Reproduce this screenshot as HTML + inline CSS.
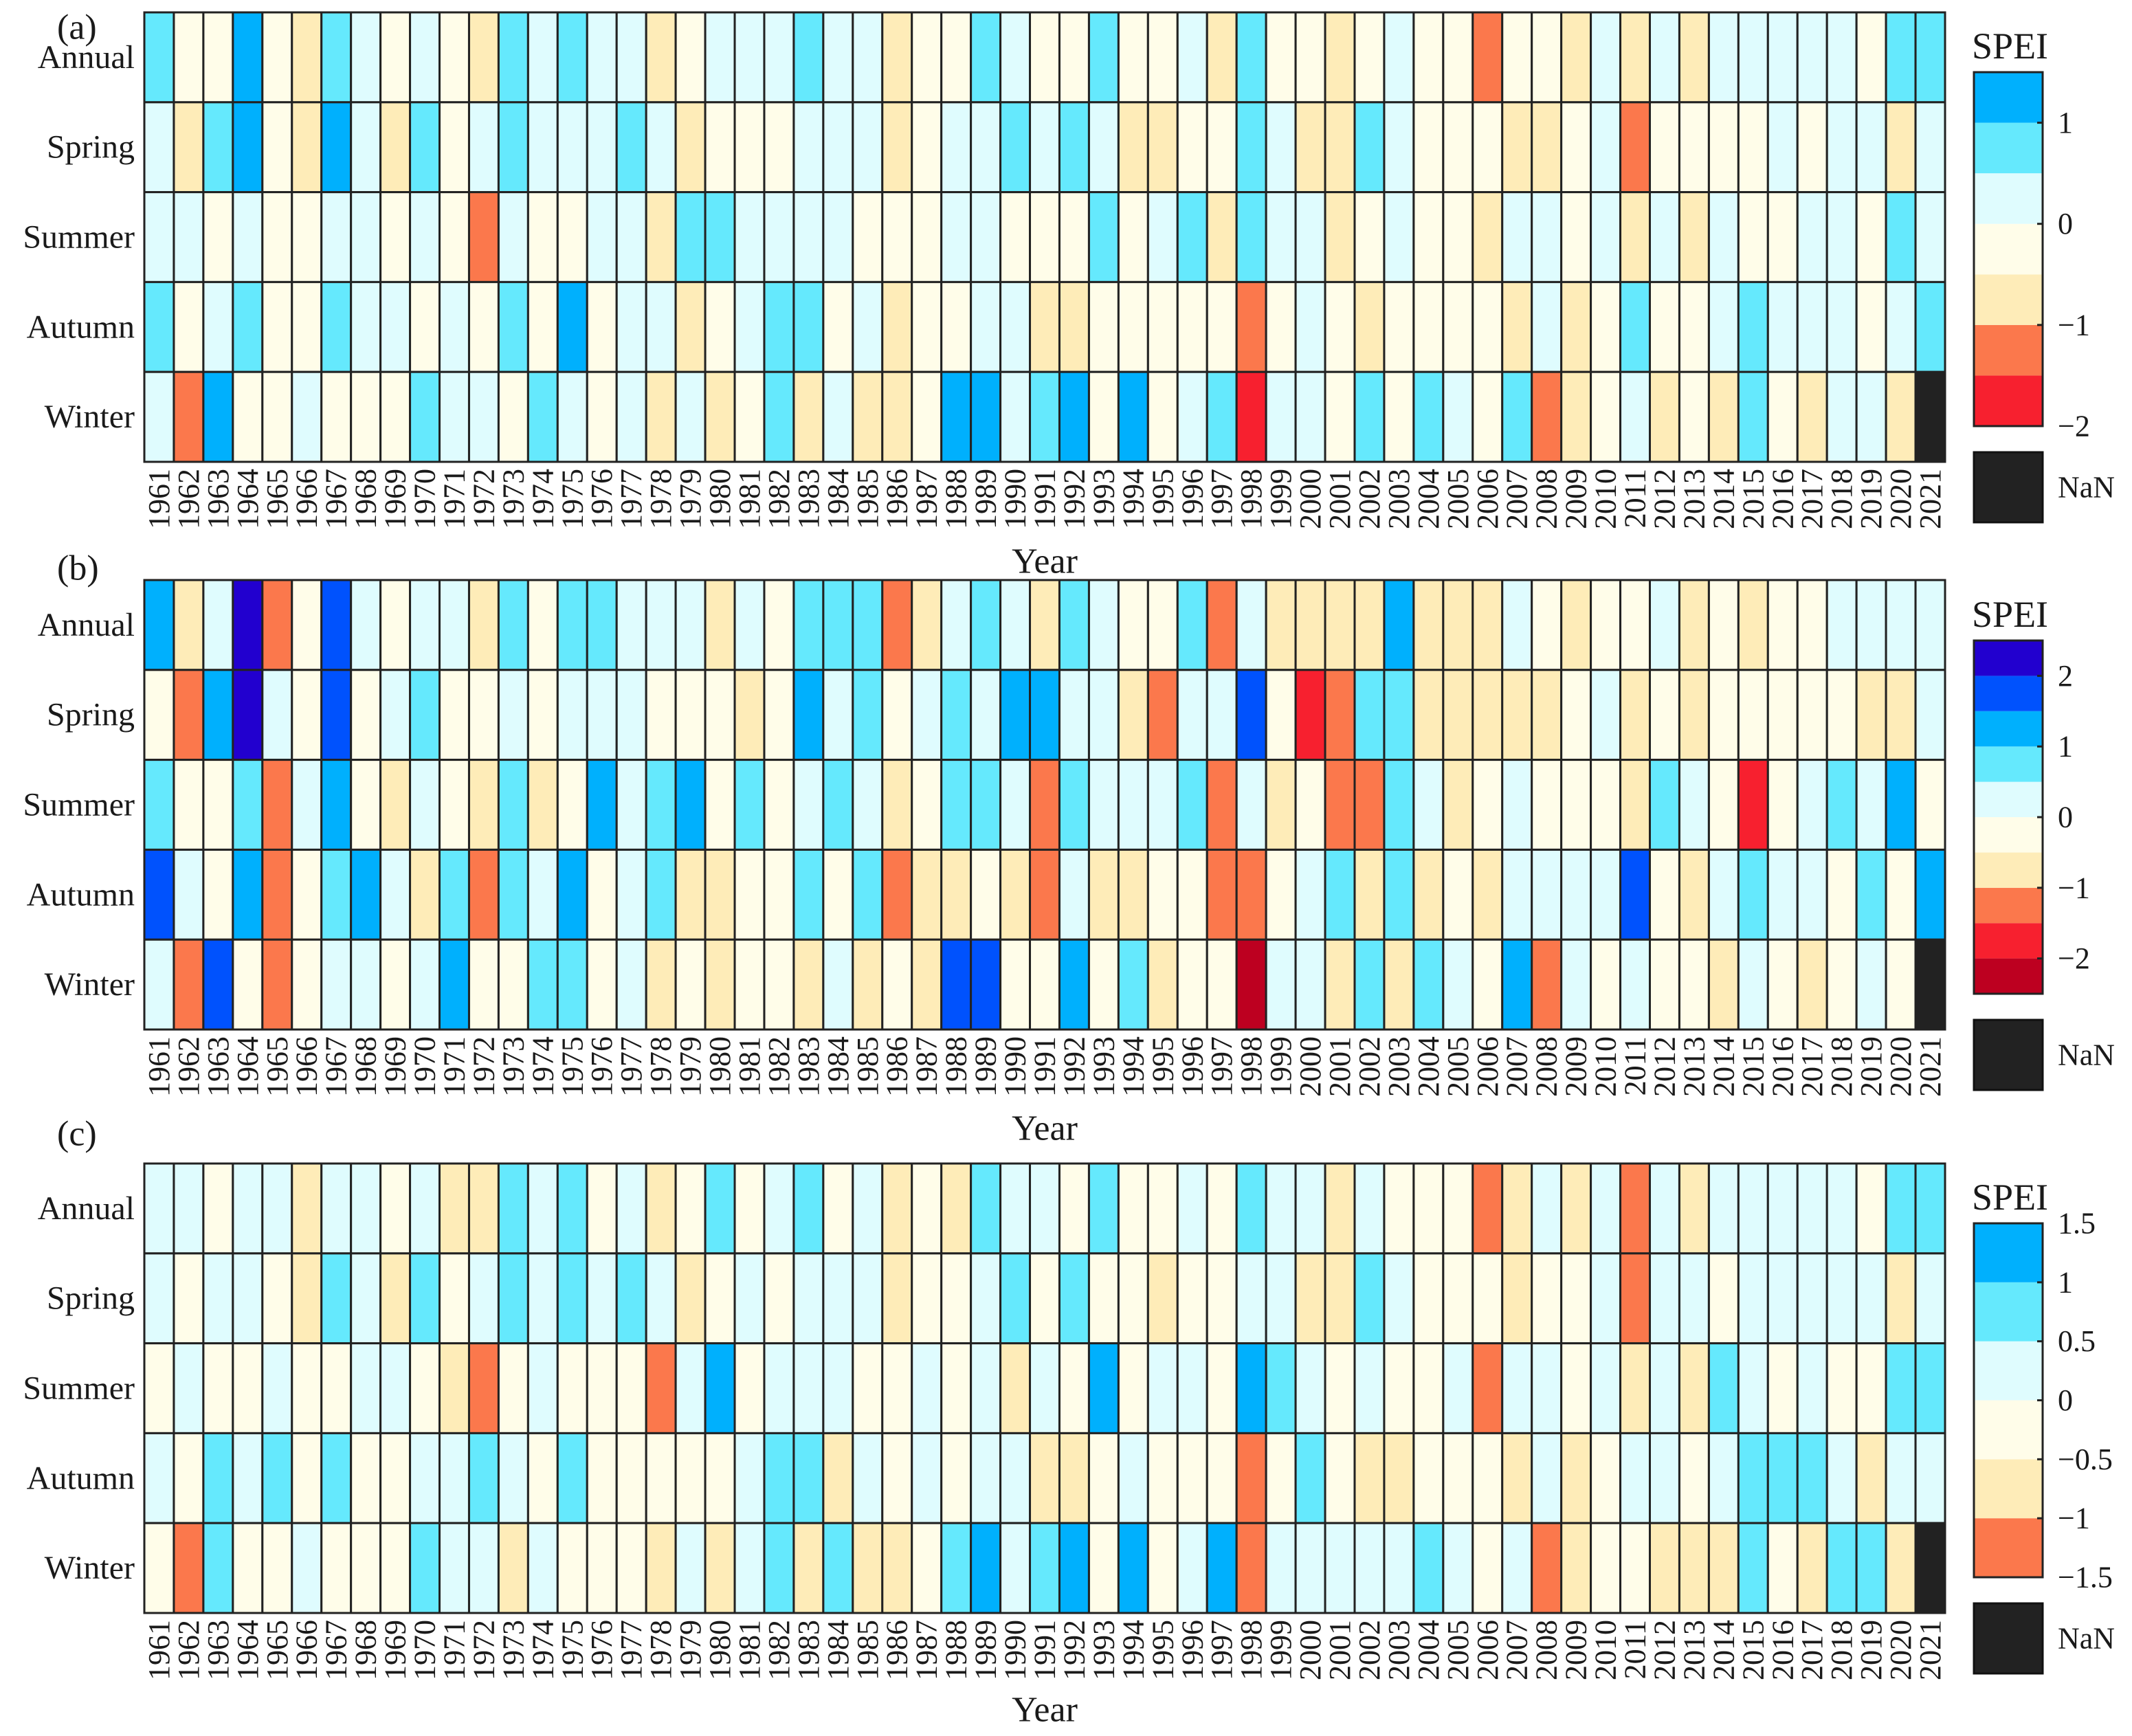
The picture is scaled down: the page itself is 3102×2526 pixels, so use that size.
<!DOCTYPE html>
<html><head><meta charset="utf-8"><style>
html,body{margin:0;padding:0;background:#fff}
svg{display:block}
text{font-family:"Liberation Serif",serif;fill:#1a1a1a}
</style></head><body>
<svg id="chart" xmlns="http://www.w3.org/2000/svg" width="3102" height="2526" viewBox="0 0 3102 2526">
<rect width="3102" height="2526" fill="#fff"/>
</svg>
<script>
const years = []; for (let y = 1961; y <= 2021; y++) years.push(String(y));
const seasons = ["Annual","Spring","Summer","Autumn","Winter"];
// codes: values are bin midpoints
const N = null;
// Panel (a)
const aAnnual = [0.75,-0.25,-0.25,1.25,-0.25,-0.75,0.75,0.25,-0.25,0.25,-0.25,-0.75,0.75,0.25,0.75,0.25,0.25,-0.75,-0.25,0.25, 0.25,0.25,0.75,0.25,0.25,-0.75,-0.25,-0.25,0.75,0.25,-0.25,-0.25,0.75,-0.25,-0.25,0.25,-0.75,0.75,-0.25,-0.25, -0.75,-0.25,0.25,-0.25,-0.25,-1.25,-0.25,-0.25,-0.75,0.25,-0.75,0.25,-0.75,0.25,0.25,0.25,0.25,0.25,-0.25,0.75,0.75];
const aSpring = [0.25,-0.75,0.75,1.25,-0.25,-0.75,1.25,0.25,-0.75,0.75,-0.25,0.25,0.75,0.25,0.25,0.25,0.75,0.25,-0.75,-0.25, -0.25,-0.25,0.25,0.25,0.25,-0.75,-0.25,0.25,0.25,0.75,0.25,0.75,0.25,-0.75,-0.75,-0.25,-0.25,0.75,0.25,-0.75, -0.75,0.75,0.25,-0.25,-0.25,-0.25,-0.75,-0.75,-0.25,0.25,-1.25,-0.25,-0.25,-0.25,-0.25,0.25,-0.25,0.25,0.25,-0.75,0.25];
const aSummer = [0.25,0.25,-0.25,0.25,-0.25,-0.25,0.25,0.25,-0.25,0.25,-0.25,-1.25,0.25,-0.25,-0.25,0.25,0.25,-0.75,0.75,0.75, 0.25,0.25,0.25,0.25,-0.25,-0.25,-0.25,0.25,0.25,-0.25,-0.25,-0.25,0.75,-0.25,0.25,0.75,-0.75,0.75,0.25,0.25, -0.75,-0.25,0.25,-0.25,-0.25,-0.75,0.25,0.25,-0.25,0.25,-0.75,0.25,-0.75,0.25,-0.25,-0.25,0.25,0.25,-0.25,0.75,0.25];
const aAutumn = [0.75,-0.25,0.25,0.75,-0.25,-0.25,0.75,0.25,0.25,-0.25,0.25,-0.25,0.75,-0.25,1.25,-0.25,0.25,0.25,-0.75,-0.25, 0.25,0.75,0.75,-0.25,0.25,-0.75,-0.25,-0.25,0.25,0.25,-0.75,-0.75,-0.25,-0.25,-0.25,-0.25,-0.25,-1.25,-0.25,0.25, -0.25,-0.75,-0.25,-0.25,-0.25,-0.25,-0.75,0.25,-0.75,-0.25,0.75,-0.25,-0.25,0.25,0.75,0.25,0.25,0.25,-0.25,0.25,0.75];
const aWinter = [0.25,-1.25,1.25,-0.25,-0.25,0.25,-0.25,-0.25,-0.25,0.75,0.25,0.25,-0.25,0.75,0.25,-0.25,0.25,-0.75,0.25,-0.75, -0.25,0.75,-0.75,0.25,-0.75,-0.75,-0.25,1.25,1.25,0.25,0.75,1.25,-0.25,1.25,-0.25,0.25,0.75,-1.75,0.25,0.25, -0.25,0.75,-0.25,0.75,0.25,-0.25,0.75,-1.25,-0.75,-0.25,0.25,-0.75,-0.25,-0.75,0.75,-0.25,-0.75,0.25,0.25,-0.75,N];
// Panel (b)
const bAnnual = [1.25,-0.75,0.25,2.25,-1.25,-0.25,1.75,0.25,-0.25,0.25,0.25,-0.75,0.75,-0.25,0.75,0.75,0.25,0.25,0.25,-0.75, 0.25,-0.25,0.75,0.75,0.75,-1.25,-0.75,0.25,0.75,0.25,-0.75,0.75,0.25,-0.25,-0.25,0.75,-1.25,0.25,-0.75,-0.75, -0.75,-0.75,1.25,-0.75,-0.75,-0.75,0.25,-0.25,-0.75,-0.25,-0.25,0.25,-0.75,-0.25,-0.75,-0.25,-0.25,0.25,0.25,0.25,0.25];
const bSpring = [-0.25,-1.25,1.25,2.25,0.25,-0.25,1.75,-0.25,0.25,0.75,-0.25,-0.25,0.25,-0.25,0.25,0.25,0.25,-0.25,-0.25,-0.25, -0.75,-0.25,1.25,0.25,0.75,-0.25,0.25,0.75,0.25,1.25,1.25,0.25,0.25,-0.75,-1.25,0.25,0.25,1.75,-0.25,-1.75, -1.25,0.75,0.75,-0.75,-0.75,-0.75,-0.75,-0.75,-0.25,0.25,-0.75,-0.25,-0.75,-0.25,-0.25,-0.25,-0.25,-0.25,-0.75,-0.75,0.25];
const bSummer = [0.75,-0.25,-0.25,0.75,-1.25,0.25,1.25,-0.25,-0.75,0.25,-0.25,-0.75,0.75,-0.75,-0.25,1.25,0.25,0.75,1.25,-0.25, 0.75,-0.25,0.25,0.75,0.25,-0.75,-0.25,0.75,0.75,0.25,-1.25,0.75,0.25,0.25,0.25,0.75,-1.25,0.25,-0.75,-0.25, -1.25,-1.25,0.75,0.25,-0.75,-0.25,0.25,-0.25,-0.25,-0.25,-0.75,0.75,0.25,-0.25,-1.75,-0.25,0.25,0.75,0.25,1.25,-0.25];
const bAutumn = [1.75,0.25,-0.25,1.25,-1.25,-0.25,0.75,1.25,0.25,-0.75,0.75,-1.25,0.75,0.25,1.25,-0.25,0.25,0.75,-0.75,-0.75, -0.25,-0.25,0.75,-0.25,0.75,-1.25,-0.75,-0.75,-0.25,-0.75,-1.25,0.25,-0.75,-0.75,-0.25,-0.25,-1.25,-1.25,-0.25,0.25, 0.75,-0.75,0.75,-0.75,-0.25,-0.75,0.25,0.25,0.25,0.25,1.75,-0.25,-0.75,0.25,0.75,0.25,0.25,-0.25,0.75,-0.25,1.25];
const bWinter = [0.25,-1.25,1.75,-0.25,-1.25,-0.25,0.25,0.25,-0.25,0.25,1.25,-0.25,-0.25,0.75,0.75,-0.25,0.25,-0.75,-0.25,-0.75, -0.25,-0.25,-0.75,0.25,-0.75,-0.25,-0.75,1.75,1.75,-0.25,-0.25,1.25,-0.25,0.75,-0.75,-0.25,-0.25,-2.25,0.25,0.25, -0.75,0.75,-0.75,0.75,0.25,-0.25,1.25,-1.25,0.25,-0.25,0.25,-0.25,-0.25,-0.75,0.25,-0.25,-0.75,-0.25,0.25,-0.25,N];
// Panel (c)
const cAnnual = [0.25,0.25,-0.25,0.25,0.25,-0.75,0.25,0.25,-0.25,0.25,-0.75,-0.75,0.75,0.25,0.75,-0.25,0.25,-0.75,-0.25,0.75, -0.25,0.25,0.75,-0.25,0.25,-0.75,-0.25,-0.75,0.75,0.25,0.25,-0.25,0.75,-0.25,-0.25,0.25,-0.25,0.75,0.25,0.25, -0.75,0.25,-0.25,-0.25,-0.25,-1.25,-0.75,0.25,-0.75,0.25,-1.25,0.25,-0.75,0.25,0.25,0.25,0.25,0.25,-0.25,0.75,0.75];
const cSpring = [0.25,-0.25,0.25,0.25,-0.25,-0.75,0.75,0.25,-0.75,0.75,-0.25,0.25,0.75,0.25,0.75,0.25,0.75,0.25,-0.75,-0.25, 0.25,-0.25,0.25,0.25,0.25,-0.75,-0.25,-0.25,0.25,0.75,-0.25,0.75,-0.25,-0.25,-0.75,-0.25,-0.25,0.25,0.25,-0.75, -0.75,0.75,0.25,-0.25,-0.25,-0.25,-0.75,-0.25,-0.25,0.25,-1.25,0.25,0.25,-0.25,0.25,0.25,0.25,0.25,0.25,-0.75,0.25];
const cSummer = [-0.25,0.25,-0.25,-0.25,0.25,-0.25,-0.25,0.25,0.25,-0.25,-0.75,-1.25,-0.25,0.25,-0.25,-0.25,-0.25,-1.25,0.25,1.25, -0.25,0.25,0.25,0.25,-0.25,-0.25,0.25,-0.25,0.25,-0.75,0.25,-0.25,1.25,-0.25,0.25,0.25,-0.25,1.25,0.75,0.25, -0.25,0.25,-0.25,-0.25,0.25,-1.25,0.25,0.25,-0.25,0.25,-0.75,0.25,-0.75,0.75,0.25,-0.25,0.25,-0.25,-0.25,0.75,0.75];
const cAutumn = [0.25,-0.25,0.75,0.25,0.75,-0.25,0.75,-0.25,-0.25,0.25,0.25,0.75,0.25,-0.25,0.75,-0.25,-0.25,-0.25,-0.25,-0.25, 0.25,0.75,0.75,-0.75,0.25,-0.25,0.25,-0.25,0.25,0.25,-0.75,-0.75,-0.25,0.25,-0.25,-0.25,-0.25,-1.25,-0.25,0.75, -0.25,-0.75,-0.75,-0.25,-0.25,-0.25,-0.75,0.25,-0.75,-0.25,0.25,0.25,-0.25,0.25,0.75,0.75,0.75,0.25,-0.75,0.25,0.25];
const cWinter = [-0.25,-1.25,0.75,-0.25,-0.25,0.25,-0.25,-0.25,-0.25,0.75,0.25,0.25,-0.75,0.25,-0.25,-0.25,-0.25,-0.75,0.25,-0.75, 0.25,0.75,-0.75,0.75,-0.75,-0.75,-0.25,0.75,1.25,0.25,0.75,1.25,-0.25,1.25,-0.25,0.25,1.25,-1.25,0.25,0.25, 0.25,0.25,0.25,0.75,0.25,-0.25,0.25,-1.25,-0.75,-0.25,-0.25,-0.75,-0.75,-0.75,0.75,-0.25,-0.75,0.75,0.75,-0.75,N];

const aTicks = [1,0,-1,-2];
const bTicks = [2,1,0,-1,-2];
const cTicks = [1.5,1,0.5,0,-0.5,-1,-1.5];

const pal = {
  "-2.25":"#bd0020","-1.75":"#f7202f","-1.25":"#fb784c","-0.75":"#feecb8","-0.25":"#fffde9",
  "0.25":"#dffcfe","0.75":"#65e9fd","1.25":"#00b0fd","1.75":"#0052fd","2.25":"#2200cf"
};
function colorFor(v){
  if (v === null) return "#222";
  const b = Math.floor(v*2)/2 + 0.25;
  const k = (Math.round(b*100)/100).toString();
  return pal[k] || (v>0 ? "#2200cf" : "#bd0020");
}
const panels = [
  {id:"a", rows:[aAnnual,aSpring,aSummer,aAutumn,aWinter], top:18, ticks:aTicks, vmin:-2, vmax:1.5, cbTop:105, cbBot:620, labelY:40, yearY:817},
  {id:"b", rows:[bAnnual,bSpring,bSummer,bAutumn,bWinter], top:844, ticks:bTicks, vmin:-2.5, vmax:2.5, cbTop:932, cbBot:1446, labelY:827, yearY:1642},
  {id:"c", rows:[cAnnual,cSpring,cSummer,cAutumn,cWinter], top:1693, ticks:cTicks, vmin:-1.5, vmax:1.5, cbTop:1780, cbBot:2295, labelY:1650, yearY:2488}
];
const NS = "http://www.w3.org/2000/svg";
const svg = document.getElementById("chart");
function mk(tag, attrs, parent){ const e = document.createElementNS(NS, tag); for (const k in attrs) e.setAttribute(k, attrs[k]); (parent||svg).appendChild(e); return e; }
const X0 = 210, W = 2620, H = 654;
const colW = W / years.length;
const xPos = i => X0 + i*colW;
panels.forEach(p => {
  const g = mk("g", {});
  
  
  const rowH = H / seasons.length;
  const yPos = r => p.top + r*rowH;
  p.rows.forEach((vals, r) => {
    vals.forEach((v, i) => {
      const c = mk("rect", {x:xPos(i), y:yPos(r), width:colW, height:rowH, fill:colorFor(v), stroke:"#222", "stroke-width":3}, g);
      
      
    });
    const t = mk("text", {x:196, y:yPos(r)+rowH/2, "text-anchor":"end", "dominant-baseline":"central", "font-size":48}, g);
    t.textContent = seasons[r];
    
    
  });
  mk("rect", {x:X0, y:p.top, width:W, height:H, fill:"none", stroke:"#222", "stroke-width":3}, g);
  const bottom = p.top + H;
  years.forEach((yr, i) => {
    const cx = xPos(i) + colW/2, ty = bottom + 10;
    const t = mk("text", {x:cx, y:ty, "text-anchor":"end", "dominant-baseline":"central", "font-size":44, transform:`rotate(-90 ${cx} ${ty})`}, g);
    t.textContent = yr;
    
    
  });
  const yl = mk("text", {x:1520, y:p.yearY, "text-anchor":"middle", "dominant-baseline":"central", "font-size":52}, g);
  yl.textContent = "Year";
  
  
  const pl = mk("text", {x:83, y:p.labelY, "dominant-baseline":"central", "font-size":52}, g);
  pl.textContent = "(" + p.id + ")";
  
  
  // colorbar
  const cbX = 2872, cbW = 100;
  const cy = v => p.cbBot - (v - p.vmin) / (p.vmax - p.vmin) * (p.cbBot - p.cbTop);
  for (let v = p.vmin; v < p.vmax - 1e-9; v += 0.5) {
    const s = mk("rect", {x:cbX, y:cy(v+0.5), width:cbW, height:cy(v)-cy(v+0.5), fill:colorFor(v+0.25)}, g);
    
    
  }
  mk("rect", {x:cbX, y:p.cbTop, width:cbW, height:p.cbBot-p.cbTop, fill:"none", stroke:"#222", "stroke-width":3}, g);
  p.ticks.forEach(tv => {
    mk("line", {x1:cbX+cbW-8, x2:cbX+cbW, y1:cy(tv), y2:cy(tv), stroke:"#222", "stroke-width":3}, g);
    const t = mk("text", {x:2994, y:cy(tv), "dominant-baseline":"central", "font-size":44}, g);
    t.textContent = (tv < 0 ? "\u2212" + Math.abs(tv) : String(tv));
    
    
  });
  const st = mk("text", {x:2869, y:p.cbTop-38, "dominant-baseline":"central", "font-size":54}, g);
  st.textContent = "SPEI";
  
  
  const nb = mk("rect", {x:cbX, y:p.cbBot+38, width:cbW, height:102, fill:"#222", stroke:"#111", "stroke-width":3}, g);
  
  
  const nt = mk("text", {x:2994, y:p.cbBot+89, "dominant-baseline":"central", "font-size":44}, g);
  nt.textContent = "NaN";
  
  
});
</script>
</body></html>
